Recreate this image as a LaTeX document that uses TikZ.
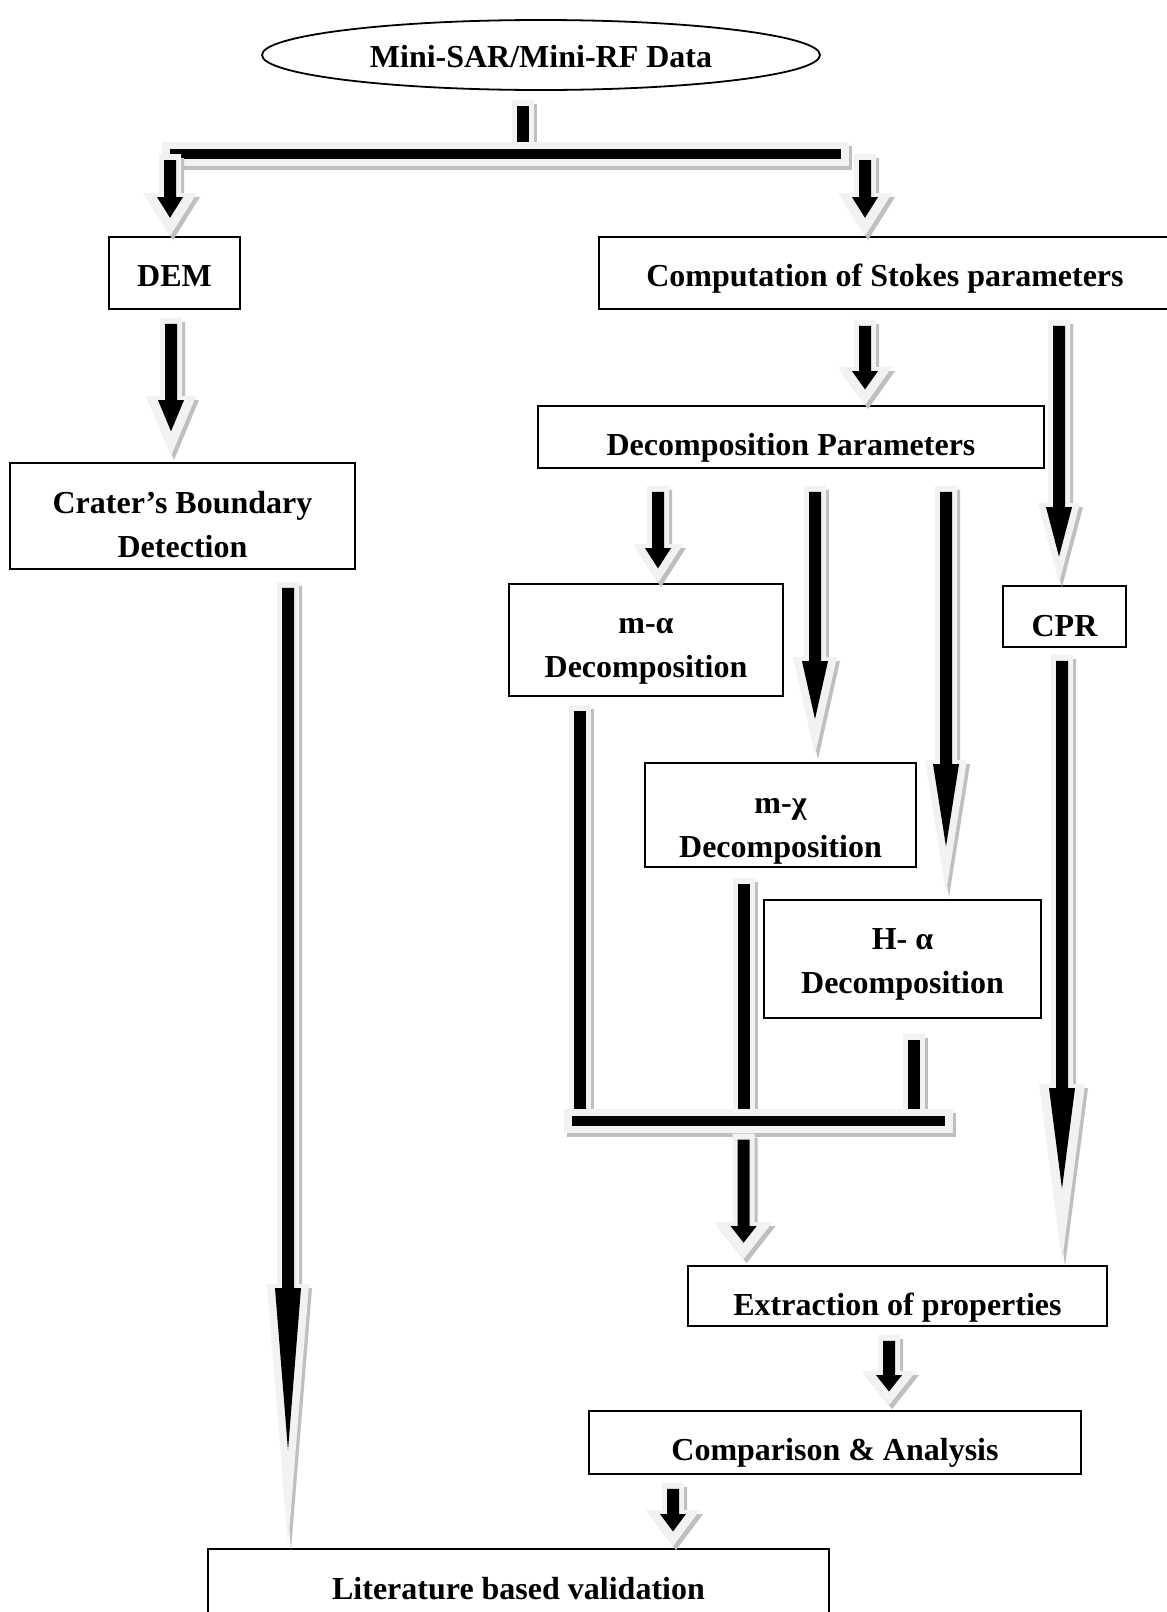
\documentclass[tikz,border=0pt]{standalone}
\usepackage{fontspec}
\setmainfont{Liberation Serif}
\usetikzlibrary{shapes.geometric,calc}

\definecolor{arrowpale}{HTML}{F2F2F2}
\definecolor{arrowshade}{HTML}{BFBFBF}

\tikzset{every picture/.style={line width=0.9pt},
  flowbox/.style={draw, inner sep=0pt, text depth=3.5pt},
  flowbox2/.style={draw, inner sep=0pt, align=center}}

% block arrow: tail, tip, head half width (px), head length (px)
\newcommand{\fatarrow}[4]{%
  \foreach \dx/\dy/\shadecol in {1.5/2/arrowshade,0/0/arrowpale}{%
    \fill[\shadecol] let \p1=#1, \p2=#2, \n1={#3*0.5pt}, \n2={#4*0.5pt},
      \n3={\x1+\dx*1pt}, \n4={\y1+\dy*1pt}, \n5={\y2+\dy*1pt} in
      ({\n3-5.5pt},\n4) -- ({\n3-5.5pt},{\n5-\n2}) -- ({\n3-\n1},{\n5-\n2}) -- (\n3,\n5)
      -- ({\n3+\n1},{\n5-\n2}) -- ({\n3+5.5pt},{\n5-\n2}) -- ({\n3+5.5pt},\n4) -- cycle;}
  \fill[black] let \p1=#1, \p2=#2, \n2={\y2-#4*0.5pt+2pt}, \n3={\n2+6.5pt*#4/#3} in
    ({\x1-3pt},{\y1+3pt}) -- ({\x1-3pt},\n2) -- ({\x1-6.5pt},\n2) -- (\x1,\n3)
    -- ({\x1+6.5pt},\n2) -- ({\x1+3pt},\n2) -- ({\x1+3pt},{\y1+3pt}) -- cycle;}

% block stem without head: top, bottom
\newcommand{\fatstem}[2]{%
  \foreach \dx/\dy/\shadecol in {1.5/2/arrowshade,0/0/arrowpale}{%
    \fill[\shadecol] let \p1=#1, \p2=#2, \n3={\x1+\dx*1pt}, \n4={\y1+\dy*1pt}, \n5={\y2+\dy*1pt} in
      ({\n3-5.5pt},\n4) rectangle ({\n3+5.5pt},\n5);}
  \fill[black] let \p1=#1, \p2=#2 in ({\x1-3pt},{\y1+3pt}) rectangle ({\x1+3pt},{\y2-2pt});}

% horizontal block bar: left end, right end
\newcommand{\fatbar}[2]{%
  \foreach \dx/\dy/\shadecol in {1.5/2/arrowshade,0/0/arrowpale}{%
    \fill[\shadecol] let \p1=#1, \p2=#2, \n3={\dx*1pt}, \n4={\dy*1pt} in
      ({\x1-4pt+\n3},{\y1+6pt+\n4}) rectangle ({\x2+4pt+\n3},{\y1-6pt+\n4});}
  \fill[black] let \p1=#1, \p2=#2 in (\x1,{\y1+2.5pt}) rectangle (\x2,{\y1-2.5pt});}

\begin{document}
\begin{tikzpicture}[x=0.5pt,y=0.5pt,yscale=-1,font=\fontsize{16}{22}\selectfont\bfseries]
\useasboundingbox (0,0) rectangle (1167,1612);

% Boxes
\node[draw, ellipse, inner sep=0pt, minimum width=279pt, minimum height=35pt, text height=15.6pt, text depth=3.5pt] (data) at (541,55) {Mini-SAR/Mini-RF Data};
\node[flowbox, minimum width=65.5pt, minimum height=36pt, text height=17.1pt] (dem) at (174.5,273) {DEM};
\node[flowbox, minimum width=286pt, minimum height=36pt, text height=17.1pt] (stokes) at (885,273) {Computation of Stokes parameters};
\node[flowbox, minimum width=253pt, minimum height=31pt, text height=22.1pt] (decomp) at (791,437) {Decomposition Parameters};
\node[flowbox2, minimum width=172.5pt, minimum height=53pt] (crater) at (182.5,516) {\rule{0pt}{19.2pt}Crater’s Boundary\\Detection};
\node[flowbox2, minimum width=137pt, minimum height=56pt] (ma) at (646,640) {\rule{0pt}{18.7pt}m-α\\Decomposition};
\node[flowbox, minimum width=61.5pt, minimum height=30.5pt, text height=23.1pt] (cpr) at (1064.5,616.5) {CPR};
\node[flowbox2, minimum width=135.5pt, minimum height=52pt] (mchi) at (780.5,815) {\rule{0pt}{23.5pt}m-χ\\Decomposition};
\node[flowbox2, minimum width=138.5pt, minimum height=59pt] (ha) at (902.5,959) {\rule{0pt}{15.7pt}H- α\\Decomposition};
\node[flowbox, minimum width=209.5pt, minimum height=30pt, text height=23.1pt] (extr) at (897.5,1296) {Extraction of properties};
\node[flowbox, minimum width=246pt, minimum height=31.5pt, text height=21.1pt] (comp) at (835,1442.5) {Comparison \& Analysis};
\node[flowbox, minimum width=310.5pt, minimum height=40pt, text height=14.1pt] (lit) at (518.5,1589) {Literature based validation};

% Split and join points
\coordinate (forkL) at (170,154);
\coordinate (forkR) at (865,154);
\coordinate (joinL) at (572,1120.5);
\coordinate (joinR) at (945,1120.5);

% Top split
\fatstem{($(data.south)+(-18,9)$)}{($(forkL)!0.5!(forkR)$)}
\fatbar{(forkL)}{([xshift=-12pt]forkR)}
\fatarrow{(forkL)}{(dem.north)}{27}{43}
\fatarrow{(forkR)}{(stokes.north)}{27}{43}

% Left branch
\fatarrow{($(dem.south)+(-3.5,8)$)}{($(crater.north)+(0,-6)$)}{25}{60}
\fatarrow{($(crater.south)+(105.5,12)$)}{($(lit.north)+(0,-2)$)}{21}{262}

% Right branch
\fatarrow{($(stokes.south)+(-20,10)$)}{(decomp.north)}{27}{38}
\fatarrow{($(stokes.south)+(174,10)$)}{($(cpr.north)+(0,-2)$)}{21}{80}
\fatarrow{($(decomp.south)+(-133,17)$)}{(ma.north)}{25}{39}
\fatarrow{($(decomp.south)+(24,17)$)}{($(mchi.north)+(0,-7)$)}{22}{98}
\fatarrow{($(decomp.south)+(155,17)$)}{($(ha.north)+(0,-6)$)}{21}{133}
\fatarrow{($(cpr.south)+(-2.5,7)$)}{($(extr.north)+(0,-3)$)}{23}{178}

% Join of the decompositions
\fatstem{($(ma.south)+(-66,8)$)}{(joinL)}
\fatstem{($(mchi.south)+(-37,10)$)}{(joinL)}
\fatstem{($(ha.south)+(11,15)$)}{(joinL)}
\fatbar{(joinL)}{(joinR)}
\fatarrow{($(joinL)!0.46!(joinR)+(0,13)$)}{($(extr.north)+(0,-6)$)}{29}{37}

% Bottom
\fatarrow{($(extr.south)+(-8.5,8)$)}{($(comp.north)+(0,-5)$)}{27}{34}
\fatarrow{($(comp.south)+(-162,8)$)}{($(lit.north)+(0,-2)$)}{27}{36}

\end{tikzpicture}
\end{document}
